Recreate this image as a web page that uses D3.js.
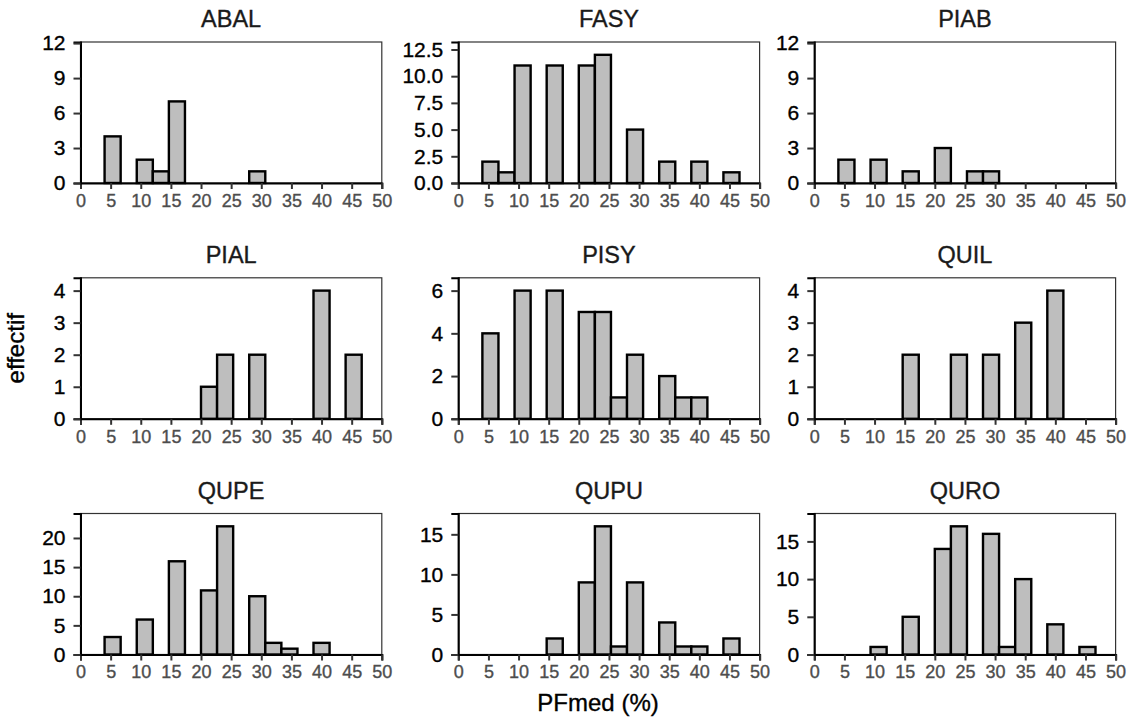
<!DOCTYPE html>
<html>
<head>
<meta charset="utf-8">
<script src="https://cdn.jsdelivr.net/npm/d3@7"></script>
<style>
  body { margin: 0; background: #fff; }
  text { font-family: "Liberation Sans", Arial, sans-serif; stroke-width: 0.35px; }
</style>
</head>
<body>
<div id="chart"></div>
<script>
// species panels, read in facet order
var panelNames = ["ABAL", "FASY", "PIAB", "PIAL", "PISY", "QUIL", "QUPE", "QUPU", "QURO"];

// histogram bins (PFmed %), centre of each bin and bin width
var binMids = [5.33, 8, 10.67, 13.33, 16, 18.67, 21.33, 24, 26.67, 29.33, 32, 34.67, 37.33, 40, 42.67, 45.33];
var binWidth = 2.667;

// counts per bin
var abal = [4, 0, 2, 1, 7, 0, 0, 0, 0, 1, 0, 0, 0, 0, 0, 0];
var fasy = [2, 1, 11, 0, 11, 0, 11, 12, 0, 5, 0, 2, 0, 2, 0, 1];
var piab = [2, 0, 2, 0, 1, 0, 3, 0, 1, 1, 0, 0, 0, 0, 0, 0];
var pial = [0, 0, 0, 0, 0, 0, 1, 2, 0, 2, 0, 0, 0, 4, 0, 2];
var pisy = [4, 0, 6, 0, 6, 0, 5, 5, 1, 3, 0, 2, 1, 1, 0, 0];
var quil = [0, 0, 0, 0, 2, 0, 0, 2, 0, 2, 0, 3, 0, 4, 0, 0];
var qupe = [3, 0, 6, 0, 16, 0, 11, 22, 0, 10, 2, 1, 0, 2, 0, 0];
var qupu = [0, 0, 0, 0, 2, 0, 9, 16, 1, 9, 0, 4, 1, 1, 0, 2];
var quro = [0, 0, 1, 0, 5, 0, 14, 17, 0, 16, 1, 10, 0, 4, 0, 1];
var counts = [abal, fasy, piab, pial, pisy, quil, qupe, qupu, quro];

// fixed y limits (null = free) and y tick labels
var yLimits = [12, null, 12, null, null, null, null, null, null];
var yTicks = [
	[0, 3, 6, 9, 12],
	[0, 2.5, 5, 7.5, 10, 12.5],
	[0, 3, 6, 9, 12],
	[0, 1, 2, 3, 4],
	[0, 2, 4, 6],
	[0, 1, 2, 3, 4],
	[0, 5, 10, 15, 20],
	[0, 5, 10, 15],
	[0, 5, 10, 15]
];
var xTicks = [0, 5, 10, 15, 20, 25, 30, 35, 40, 45, 50];

var width = 1131,
	height = 720;
var colLeft = [80.5, 458.3, 814.3],
	rowTop = [42, 277.8, 513.5];
var panelW = 301.3,
	panelH = 141;

var svg = d3.select("#chart")
	.append("svg")
	.attr("width", width)
	.attr("height", height);

panelNames.forEach(function(name, i) {
	var col = i % 3,
		row = Math.floor(i / 3);
	var g = svg.append("g")
		.attr("transform", "translate(" + colLeft[col] + "," + rowTop[row] + ")");

	var data = binMids.map(function(m, k) { return {mid: m, n: counts[i][k]}; })
		.filter(function(d) { return d.n > 0; });

	var top = yLimits[i] ? yLimits[i] * 1.008 : d3.max(counts[i]) * 1.1;

	var x = d3.scaleLinear().domain([0, 50]).range([0, panelW]);
	var y = d3.scaleLinear().domain([0, top]).range([panelH, 0]);

	// panel border
	g.append("rect")
		.attr("width", panelW)
		.attr("height", panelH)
		.attr("fill", "none")
		.attr("stroke", "#333")
		.attr("stroke-width", 1.2);

	// bars
	g.append("g")
		.selectAll("rect")
		.data(data)
		.enter().append("rect")
		.attr("x", function(d) { return x(d.mid - binWidth / 2); })
		.attr("y", function(d) { return y(d.n); })
		.attr("width", function(d) { return x(d.mid + binWidth / 2) - x(d.mid - binWidth / 2); })
		.attr("height", function(d) { return y(0) - y(d.n); })
		.attr("fill", "#bebebe")
		.attr("stroke", "#000")
		.attr("stroke-width", 2.4);

	// x axis
	var xa = g.append("g")
		.attr("transform", "translate(0," + panelH + ")")
		.call(d3.axisBottom(x).tickValues(xTicks).tickSize(6).tickPadding(5));
	xa.select(".domain").attr("stroke", "#000").attr("stroke-width", 2);
	xa.selectAll(".tick line").attr("stroke", "#333").attr("stroke-width", 2);
	xa.selectAll(".tick text")
		.attr("fill", "#4d4d4d")
		.attr("stroke", "#4d4d4d")
		.style("font-size", "18px")
		.style("font-family", "Liberation Sans, Arial, sans-serif");

	// y axis
	var fmt = i == 1 ? d3.format(".1f") : d3.format("d");
	var ya = g.append("g")
		.call(d3.axisLeft(y).tickValues(yTicks[i]).tickFormat(fmt).tickSize(7).tickPadding(8));
	ya.select(".domain").attr("stroke", "#000").attr("stroke-width", 2);
	ya.selectAll(".tick line").attr("stroke", "#333").attr("stroke-width", 2);
	ya.selectAll(".tick text")
		.attr("fill", "#000")
		.attr("stroke", "#000")
		.style("font-size", "21px")
		.style("font-family", "Liberation Sans, Arial, sans-serif");

	// title
	g.append("text")
		.attr("x", panelW / 2)
		.attr("y", -15)
		.style("text-anchor", "middle")
		.style("font-size", "23.5px")
		.attr("fill", "#1a1a1a")
		.attr("stroke", "#1a1a1a")
		.text(name);
});

// axis titles
svg.append("text")
	.attr("x", (colLeft[0] + colLeft[2] + panelW) / 2)
	.attr("y", 711)
	.style("text-anchor", "middle")
	.style("font-size", "24px")
	.attr("stroke", "#000")
	.text("PFmed (%)");
svg.append("text")
	.attr("transform", "rotate(-90)")
	.attr("x", -(rowTop[0] + rowTop[2] + panelH) / 2)
	.attr("y", 24)
	.style("text-anchor", "middle")
	.style("font-size", "24px")
	.attr("stroke", "#000")
	.text("effectif");
</script>
</body>
</html>
